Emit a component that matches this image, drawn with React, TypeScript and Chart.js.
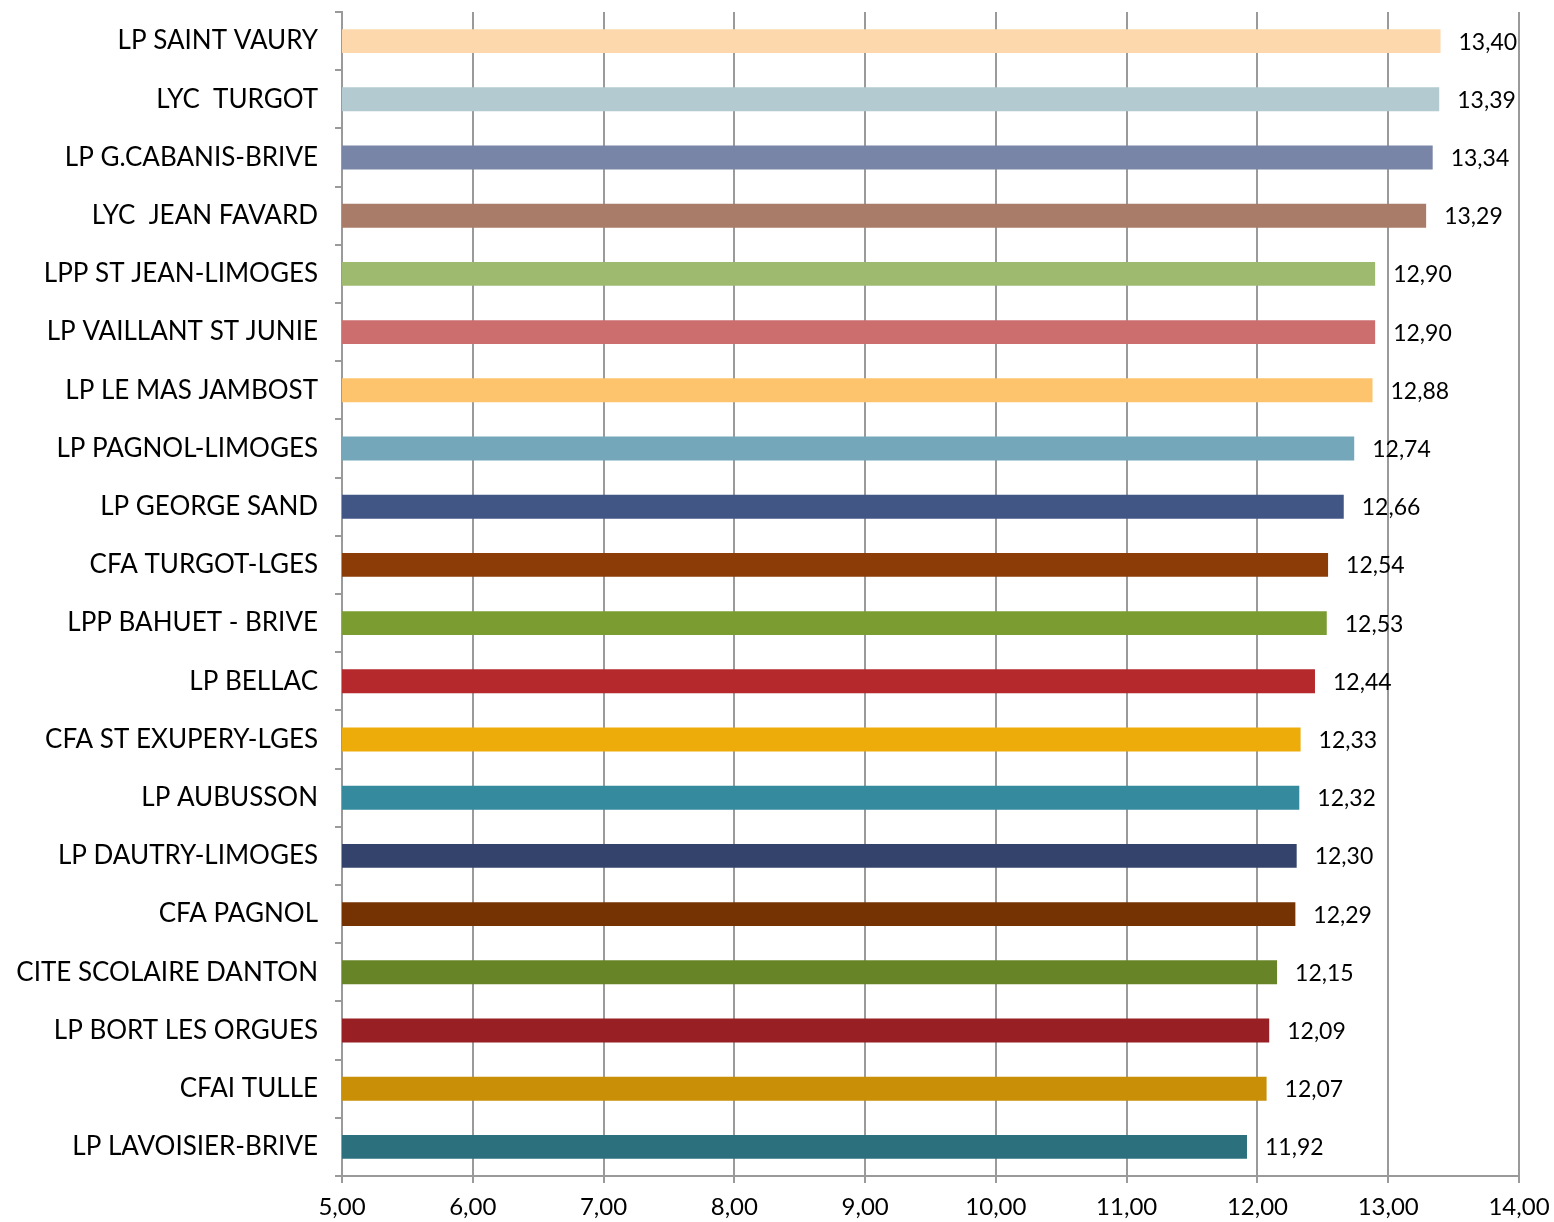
import React, { useEffect, useRef } from "react";
import { Chart, registerables } from "chart.js";

Chart.register(...registerables);

const categories = [
  "LP SAINT VAURY",
  "LYC  TURGOT",
  "LP G.CABANIS-BRIVE",
  "LYC  JEAN FAVARD",
  "LPP ST JEAN-LIMOGES",
  "LP VAILLANT ST JUNIE",
  "LP LE MAS JAMBOST",
  "LP PAGNOL-LIMOGES",
  "LP GEORGE SAND",
  "CFA TURGOT-LGES",
  "LPP BAHUET - BRIVE",
  "LP BELLAC",
  "CFA ST EXUPERY-LGES",
  "LP AUBUSSON",
  "LP DAUTRY-LIMOGES",
  "CFA PAGNOL",
  "CITE SCOLAIRE DANTON",
  "LP BORT LES ORGUES",
  "CFAI TULLE",
  "LP LAVOISIER-BRIVE",
];

const values = [
  13.4, 13.39, 13.34, 13.29, 12.9, 12.9, 12.88, 12.74, 12.66, 12.54, 12.53,
  12.44, 12.33, 12.32, 12.3, 12.29, 12.15, 12.09, 12.07, 11.92,
];

const barColors = [
  "#FDD8AC",
  "#B3CAD1",
  "#7985A6",
  "#A97B69",
  "#9DBA6F",
  "#CC6E6E",
  "#FDC46D",
  "#74A7B9",
  "#425686",
  "#8B3C07",
  "#7A9C31",
  "#B5292C",
  "#EDAC0A",
  "#368A9E",
  "#33436B",
  "#753203",
  "#678427",
  "#982024",
  "#C98F07",
  "#2C707E",
];

const xMin = 5;
const xMax = 14;

const fmt = (v: number) => v.toFixed(2).replace(".", ",");

const FONT = "Lato, 'Open Sans', sans-serif";

const valueLabels = {
  id: "valueLabels",
  afterDatasetsDraw(chart: any) {
    const ctx = chart.ctx;
    const meta = chart.getDatasetMeta(0);
    ctx.save();
    ctx.font = `23px ${FONT}`;
    ctx.fillStyle = "#000";
    ctx.textAlign = "left";
    ctx.textBaseline = "middle";
    meta.data.forEach((bar: any, i: number) => {
      ctx.fillText(fmt(values[i]), bar.x + 18, bar.y + 1);
    });
    ctx.restore();
  },
};

export default function App() {
  const ref = useRef<HTMLCanvasElement | null>(null);

  useEffect(() => {
    document.body.style.margin = "0";
    if (!ref.current) return;
    const chart = new Chart(ref.current, {
      type: "bar",
      data: {
        labels: categories,
        datasets: [
          {
            data: values,
            backgroundColor: barColors,
            borderWidth: 0,
            barPercentage: 0.82,
            categoryPercentage: 0.5,
          },
        ],
      },
      options: {
        indexAxis: "y",
        animation: false,
        responsive: false,
        maintainAspectRatio: false,
        layout: { padding: { left: 0, right: 35, top: 12, bottom: 0 } },
        plugins: {
          legend: { display: false },
          tooltip: { enabled: false },
        },
        scales: {
          x: {
            min: xMin,
            max: xMax,
            ticks: {
              stepSize: 1,
              color: "#000",
              font: { family: FONT, size: 24 },
              padding: 10,
              callback: (v: any) => fmt(Number(v)),
              maxRotation: 0,
            },
            grid: {
              color: "#9a9a9a",
              lineWidth: 2,
              drawTicks: true,
              tickLength: 7,
            },
            border: { color: "#9a9a9a", width: 2 },
            afterFit: (scale: any) => {
              scale.height = 46;
              scale.paddingLeft = 0;
              scale.paddingRight = 0;
            },
          },
          y: {
            ticks: {
              color: "#000",
              font: { family: FONT, size: 26 },
              padding: 17,
              autoSkip: false,
            },
            grid: {
              offset: true,
              drawOnChartArea: false,
              drawTicks: true,
              tickLength: 7,
              color: "#9a9a9a",
              lineWidth: 2,
            },
            border: { color: "#9a9a9a", width: 2 },
            afterFit: (scale: any) => {
              scale.width = 342;
              scale.paddingTop = 0;
              scale.paddingBottom = 0;
            },
          },
        },
      },
      plugins: [valueLabels],
    });
    return () => chart.destroy();
  }, []);

  return (
    <div style={{ width: 1554, height: 1222 }}>
      <canvas ref={ref} width={1554} height={1222} style={{ display: "block" }} />
    </div>
  );
}
